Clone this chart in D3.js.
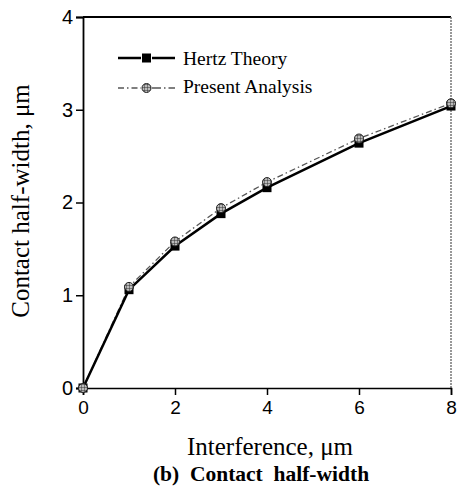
<!DOCTYPE html>
<html>
<head>
<meta charset="utf-8">
<script src="https://cdn.jsdelivr.net/npm/d3@7"></script>
<style>
  body { margin: 0; background: #fff; }
  svg { display: block; }
</style>
</head>
<body>
<svg id="chart" width="462" height="487"></svg>
<script>
// data
const interference = [0, 1, 2, 3, 4, 6, 8];
const hertzTheory = [0, 1.06, 1.53, 1.88, 2.16, 2.64, 3.04];
const presentAnalysis = [0, 1.09, 1.58, 1.94, 2.22, 2.69, 3.07];
const xTicks = [0, 2, 4, 6, 8];
const yTicks = [0, 1, 2, 3, 4];
const seriesNames = ["Hertz Theory", "Present Analysis"];

const svg = d3.select("#chart");
const margin = {top: 17, right: 11, bottom: 99, left: 83};
const dim = {w: 462, h: 487};

const serif = "'Liberation Serif', 'Times New Roman', serif";
const sans = "'Liberation Sans', Arial, sans-serif";

const x = d3.scaleLinear().domain([0, 8]).range([margin.left, dim.w - margin.right]);
const y = d3.scaleLinear().domain([0, 4]).range([dim.h - margin.bottom, margin.top]);

// frame: thick top, light right
svg.append("line")
    .attr("x1", x(0)).attr("x2", x(8))
    .attr("y1", y(4)).attr("y2", y(4))
    .attr("stroke", "#000").attr("stroke-width", 2);
svg.append("line")
    .attr("x1", x(8)).attr("x2", x(8))
    .attr("y1", y(4)).attr("y2", y(0))
    .attr("stroke", "#777").attr("stroke-width", 1.5)
    .attr("stroke-dasharray", "2,1");

// x axis
const xAxis = svg.append("g")
    .attr("transform", `translate(0,${y(0)})`)
    .call(d3.axisBottom(x).tickValues(xTicks).tickSize(7).tickPadding(6).tickFormat(d3.format("d")));
xAxis.select(".domain").attr("stroke-width", 1.5);
xAxis.selectAll(".tick line").attr("stroke-width", 1.5);
xAxis.selectAll("text")
    .style("font-family", sans)
    .style("font-size", "19px")
    .attr("fill", "#000");

// y axis
const yAxis = svg.append("g")
    .attr("transform", `translate(${x(0)},0)`)
    .call(d3.axisLeft(y).tickValues(yTicks).tickSize(7).tickPadding(3).tickFormat(d3.format("d")));
yAxis.select(".domain").attr("stroke-width", 1.8);
yAxis.selectAll(".tick line").attr("stroke-width", 1.5);
yAxis.selectAll("text")
    .style("font-family", sans)
    .style("font-size", "20px")
    .attr("fill", "#000");

// axis titles
svg.append("text")
    .attr("x", 270).attr("y", 455)
    .attr("text-anchor", "middle")
    .style("font-family", serif)
    .style("font-size", "25px")
    .text("Interference, \u03bcm");

svg.append("text")
    .attr("x", 261).attr("y", 481)
    .attr("text-anchor", "middle")
    .style("font-family", serif)
    .style("font-size", "21.5px")
    .style("font-weight", "bold")
    .style("white-space", "pre")
    .text("(b)  Contact  half-width");

svg.append("text")
    .attr("transform", `translate(29,${201}) rotate(-90)`)
    .attr("text-anchor", "middle")
    .style("font-family", serif)
    .style("font-size", "25px")
    .text("Contact half-width, \u03bcm");

// hatch pattern for the round markers
const defs = svg.append("defs");
const pat = defs.append("pattern")
    .attr("id", "hatch").attr("patternUnits", "userSpaceOnUse")
    .attr("width", 3).attr("height", 3);
pat.append("rect").attr("width", 3).attr("height", 3).attr("fill", "#bbb");
pat.append("path").attr("d", "M0,0H3M0,0V3").attr("stroke", "#333").attr("stroke-width", 1);

const line = d3.line().x((d, i) => x(interference[i])).y(d => y(d));

// present analysis: thin dash-dot gray
svg.append("path")
    .datum(presentAnalysis)
    .attr("d", line)
    .attr("fill", "none")
    .attr("stroke", "#555")
    .attr("stroke-width", 1.3)
    .attr("stroke-dasharray", "6,3,1.5,3");

// hertz: thick solid black
svg.append("path")
    .datum(hertzTheory)
    .attr("d", line)
    .attr("fill", "none")
    .attr("stroke", "#000")
    .attr("stroke-width", 2.5);

svg.selectAll(".hz")
    .data(hertzTheory)
    .join("rect")
    .attr("class", "hz")
    .attr("x", (d, i) => x(interference[i]) - 4.5)
    .attr("y", d => y(d) - 4.5)
    .attr("width", 9).attr("height", 9)
    .attr("fill", "#000");

svg.selectAll(".pa")
    .data(presentAnalysis)
    .join("circle")
    .attr("class", "pa")
    .attr("cx", (d, i) => x(interference[i]))
    .attr("cy", d => y(d))
    .attr("r", 4.5)
    .attr("fill", "url(#hatch)")
    .attr("stroke", "#222")
    .attr("stroke-width", 1);

// legend
const lg = svg.append("g");
// Hertz entry
lg.append("line").attr("x1", 118).attr("x2", 141).attr("y1", 58).attr("y2", 58)
    .attr("stroke", "#000").attr("stroke-width", 2.5);
lg.append("line").attr("x1", 152).attr("x2", 175).attr("y1", 58).attr("y2", 58)
    .attr("stroke", "#000").attr("stroke-width", 2.5);
lg.append("rect").attr("x", 142).attr("y", 53.5).attr("width", 9).attr("height", 9).attr("fill", "#000");
lg.append("text").attr("x", 183).attr("y", 65)
    .style("font-family", serif).style("font-size", "19.5px")
    .text(seriesNames[0]);
// Present entry
lg.append("line").attr("x1", 118).attr("x2", 141).attr("y1", 88).attr("y2", 88)
    .attr("stroke", "#555").attr("stroke-width", 1.3).attr("stroke-dasharray", "6,3,1.5,3");
lg.append("line").attr("x1", 152).attr("x2", 175).attr("y1", 88).attr("y2", 88)
    .attr("stroke", "#555").attr("stroke-width", 1.3).attr("stroke-dasharray", "9,3,1.5,3");
lg.append("circle").attr("cx", 146.5).attr("cy", 88).attr("r", 4.5)
    .attr("fill", "url(#hatch)").attr("stroke", "#222").attr("stroke-width", 1);
lg.append("text").attr("x", 183).attr("y", 93)
    .style("font-family", serif).style("font-size", "19.5px")
    .text(seriesNames[1]);
</script>
</body>
</html>
